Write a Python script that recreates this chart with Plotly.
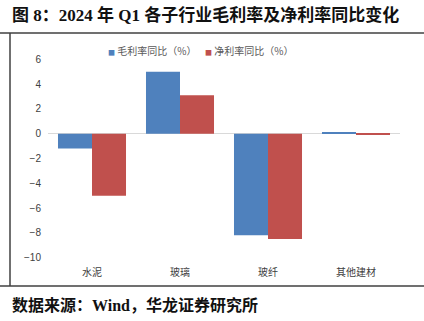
import plotly.graph_objects as go

categories = ["水泥", "玻璃", "玻纤", "其他建材"]
gross_margin_yoy = [-1.2, 5.0, -8.2, 0.1]
net_margin_yoy = [-5.0, 3.1, -8.5, -0.1]
series_names = ["毛利率同比（%）", "净利率同比（%）"]
series_colors = ["#4F81BD", "#C0504D"]
y_ticks = [-10, -8, -6, -4, -2, 0, 2, 4, 6]

W, H = 424, 321
L, R, T, B = 48, 24, 52, 56

def px_x(x):
    return (x - L) / (W - L - R)

def px_y(y):
    return (H - B - y) / (H - T - B)

fig = go.Figure()
fig.add_trace(go.Bar(x=categories, y=gross_margin_yoy, name=series_names[0],
                     marker=dict(color=series_colors[0], line=dict(width=0))))
fig.add_trace(go.Bar(x=categories, y=net_margin_yoy, name=series_names[1],
                     marker=dict(color=series_colors[1], line=dict(width=0))))

tick_font = dict(family="Liberation Sans, Noto Sans CJK SC", size=10, color="#404040")

fig.update_layout(
    width=W, height=H,
    margin=dict(l=L, r=R, t=T, b=B),
    paper_bgcolor="white", plot_bgcolor="white",
    barmode="group", bargap=0.227, bargroupgap=0,
    showlegend=False,
    xaxis=dict(showgrid=False, showline=False, ticks="", tickfont=tick_font,
               zeroline=False),
    yaxis=dict(range=[-10.6, 6.6], tickvals=y_ticks, showgrid=False, showline=False,
               zeroline=True, zerolinecolor="#D9D9D9", zerolinewidth=1,
               tickfont=tick_font, ticks="", ticklabelstandoff=6),
    font=dict(family="Liberation Sans, Noto Sans CJK SC"),
)

# legend drawn as text (small square markers close to labels, as in the reference)
legend_x = [106, 203]
for name, color, lx in zip(series_names, series_colors, legend_x):
    fig.add_annotation(text=f"<span style='color:{color};font-size:7px'>■</span> {name}",
                       xref="paper", yref="paper", x=px_x(lx), y=px_y(50),
                       xanchor="left", yanchor="middle", showarrow=False,
                       font=dict(family="Noto Sans CJK SC", size=10, color="#595959"))

frame = dict(type="line", xref="paper", yref="paper", line=dict(color="#404040", width=1.5))
fig.add_shape(**frame, x0=px_x(0), x1=px_x(424), y0=px_y(33), y1=px_y(33))
fig.add_shape(**frame, x0=px_x(0), x1=px_x(424), y0=px_y(286), y1=px_y(286))
fig.add_shape(**frame, x0=px_x(10), x1=px_x(10), y0=px_y(33), y1=px_y(286))

title_font = dict(family="Liberation Serif, Noto Sans CJK SC", size=17, color="#111111")
fig.add_annotation(text="<b>图 8：2024 年 Q1 各子行业毛利率及净利率同比变化</b>",
                   xref="paper", yref="paper", x=px_x(10), y=px_y(15),
                   xanchor="left", yanchor="middle", showarrow=False, font=title_font)
fig.add_annotation(text="<b>数据来源：Wind，华龙证券研究所</b>",
                   xref="paper", yref="paper", x=px_x(10), y=px_y(305),
                   xanchor="left", yanchor="middle", showarrow=False,
                   font=dict(family="Liberation Serif, Noto Sans CJK SC", size=16, color="#111111"))

fig.write_html("out.html")
